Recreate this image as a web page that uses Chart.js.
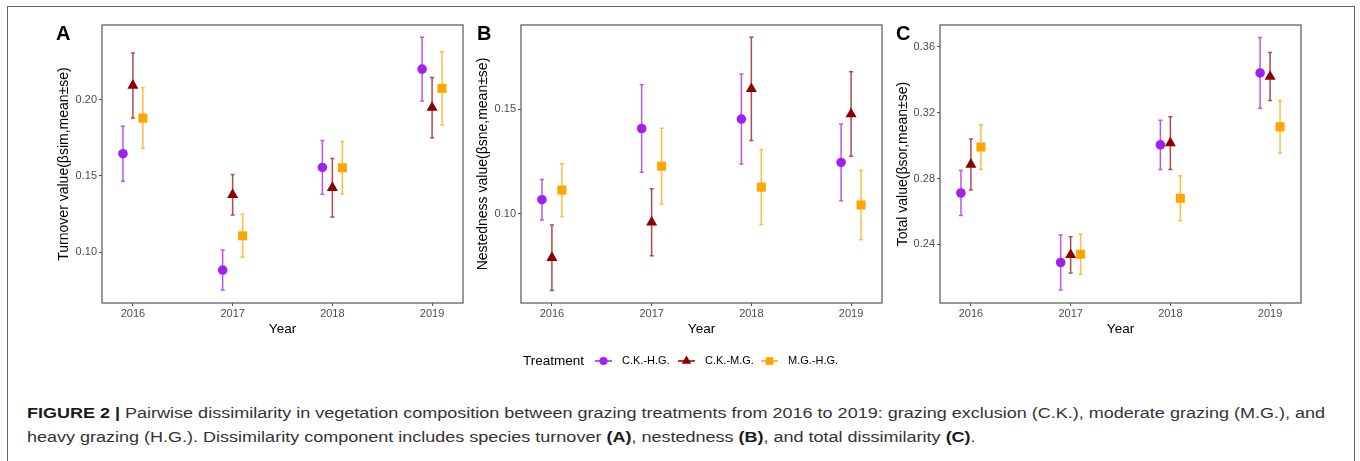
<!DOCTYPE html>
<html>
<head>
<meta charset="utf-8">
<script src="https://cdn.jsdelivr.net/npm/chart.js@4/dist/chart.umd.min.js"></script>
<style>
body { margin: 0; width: 1360px; height: 461px; background: #fff; position: relative; overflow: hidden; font-family: "Liberation Sans", Arial, sans-serif; }
#frame { position: absolute; left: 7px; top: 6px; width: 1348px; height: 470px; border: 1px solid #666; box-sizing: border-box; }
canvas.panel { position: absolute; }
.tag { position: absolute; font-weight: bold; font-size: 20px; line-height: 20px; color: #000; }
.cap { position: absolute; left: 27px; font-size: 14px; line-height: 16px; white-space: nowrap; transform-origin: 0 50%; color: #333; }
.cap b { color: #1a1a1a; }
</style>
</head>
<body>
<div id="frame"></div>
<canvas class="panel" id="chartA" style="left:56px;top:15px;width:414px;height:322px"></canvas>
<canvas class="panel" id="chartB" style="left:475px;top:15px;width:414px;height:322px"></canvas>
<canvas class="panel" id="chartC" style="left:895px;top:15px;width:413px;height:322px"></canvas>
<div class="tag" style="left:56px;top:23px">A</div>
<div class="tag" style="left:477px;top:23px">B</div>
<div class="tag" style="left:896px;top:23px">C</div>
<canvas id="legend" style="position:absolute;left:500px;top:348px;width:360px;height:26px"></canvas>
<div class="cap" id="cap1" style="top:405px"><b>FIGURE 2 |</b> Pairwise dissimilarity in vegetation composition between grazing treatments from 2016 to 2019: grazing exclusion (C.K.), moderate grazing (M.G.), and</div>
<div class="cap" id="cap2" style="top:429px">heavy grazing (H.G.). Dissimilarity component includes species turnover <b>(A)</b>, nestedness <b>(B)</b>, and total dissimilarity <b>(C)</b>.</div>
<script>
const years = [2016, 2017, 2018, 2019]
const treatments = ['C.K.-H.G.', 'C.K.-M.G.', 'M.G.-H.G.']

// Turnover (A), mean and se
const turnCKHG = [0.1646, 0.0884, 0.1556, 0.2200]
const turnCKHGse = [0.0180, 0.0131, 0.0176, 0.0209]
const turnCKMG = [0.2093, 0.1377, 0.1423, 0.1948]
const turnCKMGse = [0.0213, 0.0133, 0.0192, 0.0197]
const turnMGHG = [0.1879, 0.1108, 0.1554, 0.2074]
const turnMGHGse = [0.0199, 0.0141, 0.0172, 0.0240]

// Nestedness (B)
const nestCKHG = [0.1067, 0.1407, 0.1452, 0.1245]
const nestCKHGse = [0.0097, 0.0209, 0.0215, 0.0183]
const nestCKMG = [0.0790, 0.0959, 0.1596, 0.1476]
const nestCKMGse = [0.0156, 0.0160, 0.0246, 0.0202]
const nestMGHG = [0.1113, 0.1227, 0.1127, 0.1042]
const nestMGHGse = [0.0126, 0.0181, 0.0178, 0.0166]

// Total (C)
const totCKHG = [0.2712, 0.2290, 0.3004, 0.3441]
const totCKHGse = [0.0137, 0.0167, 0.0149, 0.0215]
const totCKMG = [0.2885, 0.2336, 0.3015, 0.3419]
const totCKMGse = [0.0155, 0.0110, 0.0160, 0.0146]
const totMGHG = [0.2991, 0.2340, 0.2680, 0.3114]
const totMGHGse = [0.0135, 0.0122, 0.0137, 0.0159]

const ticksA = [0.10, 0.15, 0.20]
const ticksB = [0.10, 0.15]
const ticksC = [0.24, 0.28, 0.32, 0.36]

// styles
const colors = ['#A020F0', '#8B0000', '#FFA500']
const barColors = ['rgba(160,32,240,0.75)', 'rgba(139,0,0,0.7)', 'rgba(255,165,0,0.75)']
const shapes = ['circle', 'triangle', 'rect']
const sizes = [4.8, 6.4, 6.4]
const dodge = [-0.1, 0, 0.1]

const errorBars = {
	id: 'errorBars',
	beforeDatasetsDraw(chart) {
		const ctx = chart.ctx
		const xs = chart.scales.x
		const ys = chart.scales.y
		chart.data.datasets.forEach(function(ds) {
			ctx.save()
			ctx.strokeStyle = ds.barColor
			ctx.lineWidth = 1.5
			ds.data.forEach(function(p) {
				const x = xs.getPixelForValue(p.x)
				const top = ys.getPixelForValue(p.y + p.se)
				const bot = ys.getPixelForValue(p.y - p.se)
				ctx.beginPath()
				ctx.moveTo(x, top); ctx.lineTo(x, bot)
				ctx.moveTo(x - 2, top); ctx.lineTo(x + 2, top)
				ctx.moveTo(x - 2, bot); ctx.lineTo(x + 2, bot)
				ctx.stroke()
			})
			ctx.restore()
		})
	}
}

const panelBorder = {
	id: 'panelBorder',
	afterDraw(chart) {
		const a = chart.chartArea
		const ctx = chart.ctx
		ctx.save()
		ctx.strokeStyle = '#555'
		ctx.lineWidth = 1.2
		ctx.strokeRect(a.left, a.top, a.right - a.left, a.bottom - a.top)
		ctx.restore()
	}
}

function makePanel(id, title, means, ses, yMin, yMax, yTicks, yWidth) {
	const datasets = treatments.map(function(t, i) {
		return {
			label: t,
			data: years.map(function(yr, j) { return { x: yr + dodge[i], y: means[i][j], se: ses[i][j] } }),
			pointStyle: shapes[i],
			pointRadius: sizes[i],
			pointBackgroundColor: colors[i],
			pointBorderWidth: 0,
			barColor: barColors[i],
			showLine: false,
		}
	})
	return new Chart(document.getElementById(id), {
		type: 'scatter',
		data: { datasets: datasets },
		plugins: [errorBars, panelBorder],
		options: {
			animation: false,
			responsive: false,
			devicePixelRatio: 1,
			layout: { padding: { top: 10, right: 7, bottom: 0, left: 0 } },
			plugins: { legend: { display: false }, tooltip: { enabled: false } },
			scales: {
				x: {
					type: 'linear',
					min: 2015.69,
					max: 2019.31,
					afterBuildTicks: function(s) { s.ticks = years.map(function(v) { return { value: v } }) },
					afterFit: function(s) { s.height = 34 },
					ticks: { callback: function(v) { return String(v) }, color: '#4d4d4d', font: { family: 'Liberation Sans', size: 11 }, padding: 1, maxRotation: 0 },
					grid: { drawOnChartArea: false, drawTicks: true, tickLength: 3, color: '#555' },
					border: { display: false },
					title: { display: true, text: 'Year', color: '#000', font: { family: 'Liberation Sans', size: 13.5 }, padding: 0 },
				},
				y: {
					min: yMin,
					max: yMax,
					afterBuildTicks: function(s) { s.ticks = yTicks.map(function(v) { return { value: v } }) },
					afterFit: function(s) { s.width = yWidth },
					ticks: { callback: function(v) { return v.toFixed(2) }, color: '#4d4d4d', font: { family: 'Liberation Sans', size: 11 }, padding: 2 },
					grid: { drawOnChartArea: false, drawTicks: true, tickLength: 3, color: '#555' },
					border: { display: false },
					title: { display: true, text: title, color: '#000', font: { family: 'Liberation Sans', size: 14 }, padding: 0 },
				},
			},
		},
	})
}

function sizeCanvas(id) {
	const c = document.getElementById(id)
	c.width = parseInt(c.style.width)
	c.height = parseInt(c.style.height)
}
['chartA', 'chartB', 'chartC', 'legend'].forEach(sizeCanvas)

makePanel('chartA', 'Turnover value(βsim,mean±se)', [turnCKHG, turnCKMG, turnMGHG], [turnCKHGse, turnCKMGse, turnMGHGse], 0.0668, 0.2489, ticksA, 46)
makePanel('chartB', 'Nestedness value(βsne,mean±se)', [nestCKHG, nestCKMG, nestMGHG], [nestCKHGse, nestCKMGse, nestMGHGse], 0.0574, 0.1901, ticksB, 46)
makePanel('chartC', 'Total value(βsor,mean±se)', [totCKHG, totCKMG, totMGHG], [totCKHGse, totCKMGse, totMGHGse], 0.2044, 0.3732, ticksC, 45)

// legend below panels
const lg = document.getElementById('legend').getContext('2d')
lg.font = '13.5px "Liberation Sans"'
lg.fillStyle = '#000'
lg.textBaseline = 'middle'
lg.fillText('Treatment', 23, 13)
const keyX = [95, 178, 261]
treatments.forEach(function(t, i) {
	const x0 = keyX[i]
	lg.strokeStyle = colors[i]
	lg.lineWidth = 1.5
	lg.beginPath(); lg.moveTo(x0, 13); lg.lineTo(x0 + 17, 13); lg.stroke()
	lg.fillStyle = colors[i]
	Chart.helpers.drawPoint(lg, { pointStyle: shapes[i], radius: sizes[i] * 0.85, rotation: 0, borderWidth: 0 }, x0 + 8.5, 13)
	lg.fillStyle = '#000'
	lg.font = '11px "Liberation Sans"'
	lg.fillText(t, x0 + 27, 13)
})

// fit caption line 1 to the width it has in the original
const c1 = document.getElementById('cap1')
const k = 1298 / c1.getBoundingClientRect().width
c1.style.transform = 'scaleX(' + k + ')'
document.getElementById('cap2').style.transform = 'scaleX(' + k + ')'
</script>
</body>
</html>
